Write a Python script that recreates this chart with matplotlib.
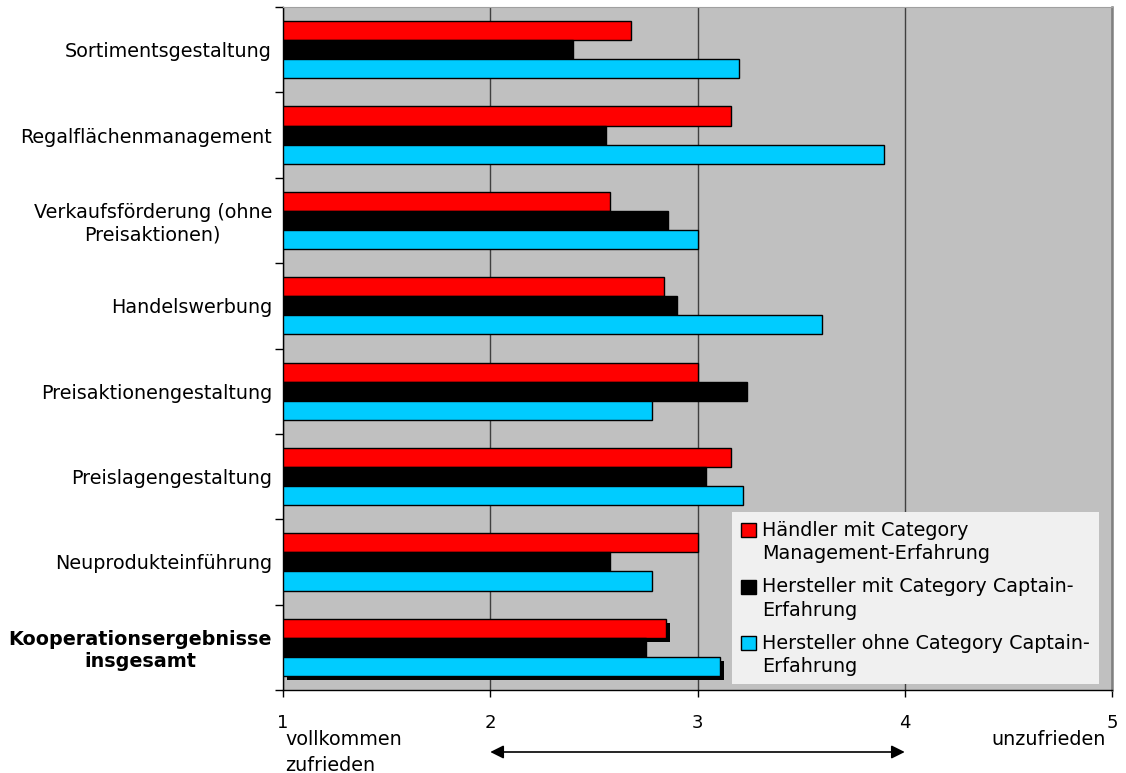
import numpy as np
import matplotlib
matplotlib.use("Agg")
import matplotlib.pyplot as plt
from matplotlib import patheffects
from matplotlib.patches import Rectangle

# Satisfaction scores (1 = vollkommen zufrieden ... 5 = unzufrieden)
categories = [
    "Sortimentsgestaltung",
    "Regalflächenmanagement",
    "Verkaufsförderung (ohne\nPreisaktionen)",
    "Handelswerbung",
    "Preisaktionengestaltung",
    "Preislagengestaltung",
    "Neuprodukteinführung",
    "Kooperationsergebnisse\ninsgesamt",
]
haendler_cm = [2.68, 3.16, 2.58, 2.84, 3.00, 3.16, 3.00, 2.85]
hersteller_mit_cc = [2.40, 2.56, 2.86, 2.90, 3.24, 3.04, 2.58, 2.75]
hersteller_ohne_cc = [3.20, 3.90, 3.00, 3.60, 2.78, 3.22, 2.78, 3.11]

series_labels = [
    "Händler mit Category\nManagement-Erfahrung",
    "Hersteller mit Category Captain-\nErfahrung",
    "Hersteller ohne Category Captain-\nErfahrung",
]
series_colors = ["#FF0000", "#000000", "#00CCFF"]
x_ticks = [1, 2, 3, 4, 5]
scale_low = "vollkommen\nzufrieden"
scale_high = "unzufrieden"

W, H = 1126, 773
plt.rcParams["font.family"] = ["DejaVu Sans"]
fig = plt.figure(figsize=(W / 100, H / 100), dpi=100)
ax = fig.add_axes([283 / W, 1 - 690 / H, (1112 - 283) / W, (690 - 7) / H])
ax.set_facecolor("#C0C0C0")


def fx(px):
    return px / W


def fy(py):
    return 1 - py / H


y = np.arange(len(categories))
bar_h = 0.2236
all_series = [haendler_cm, hersteller_mit_cc, hersteller_ohne_cc]
shadow = [patheffects.SimplePatchShadow(offset=(2.9, -3.2), shadow_rgbFace="black", alpha=1.0),
          patheffects.Normal()]

for k, (vals, col) in enumerate(zip(all_series, series_colors)):
    vals = np.asarray(vals)
    bars = ax.barh(y + (k - 1) * bar_h, vals - 1, left=1, height=bar_h,
                   color=col, edgecolor="black", linewidth=1.0, zorder=3)
    # overall result row is drawn with a drop shadow
    if k != 1:
        bars.patches[-1].set_path_effects(shadow)

ax.set_xlim(1, 5)
ax.set_ylim(len(categories) - 0.5, -0.5)

# vertical grid lines
ax.set_xticks(x_ticks)
ax.set_xticklabels([str(t) for t in x_ticks])
ax.grid(axis="x", color="#404040", linewidth=1.0, zorder=1)
ax.set_axisbelow(True)

# category labels centred on groups, tick marks between groups
ax.set_yticks(y)
ax.set_yticklabels(categories, multialignment="center")
ax.set_yticks(np.arange(len(categories) + 1) - 0.5, minor=True)
ax.tick_params(axis="y", which="major", length=0, pad=8, labelsize=13.8)
ax.tick_params(axis="y", which="minor", length=5.8, width=1, direction="out", color="black")
ax.tick_params(axis="x", which="major", length=5, width=1, direction="out", pad=12,
               labelsize=13)
for lbl in ax.get_yticklabels():
    if lbl.get_text().startswith("Kooperation"):
        lbl.set_fontweight("bold")

for side in ("left", "bottom"):
    ax.spines[side].set_color("black")
    ax.spines[side].set_linewidth(1.0)
ax.spines["top"].set_color("#A0A0A0")
ax.spines["right"].set_color("#808080")
ax.spines["right"].set_linewidth(1.8)

# legend box
fig.patches.append(Rectangle((fx(732), fy(684)), fx(1099) - fx(732), fy(512) - fy(684),
                             transform=fig.transFigure, facecolor="#F0F0F0",
                             edgecolor="none", zorder=5))
for k, (lab, col) in enumerate(zip(series_labels, series_colors)):
    top = 523 + k * 56.5
    fig.patches.append(Rectangle((fx(741), fy(top + 14)), fx(756) - fx(741), fy(top) - fy(top + 14),
                                 transform=fig.transFigure, facecolor=col,
                                 edgecolor="black", linewidth=1.0, zorder=6))
    first, second = lab.split("\n")
    base = 536 + k * 56.5
    fig.text(fx(762), fy(base), first, fontsize=13.8, va="baseline", ha="left", zorder=7)
    fig.text(fx(762), fy(base + 23), second, fontsize=13.8, va="baseline", ha="left", zorder=7)

# scale annotations below the axis
low1, low2 = scale_low.split("\n")
fig.text(fx(285), fy(745), low1, fontsize=13.8, va="baseline", ha="left")
fig.text(fx(285), fy(771), low2, fontsize=13.8, va="baseline", ha="left")
fig.text(fx(1106), fy(745), scale_high, fontsize=13.8, va="baseline", ha="right")

ax.annotate("", xy=(4, fy(752)), xytext=(2, fy(752)),
            xycoords=("data", "figure fraction"), textcoords=("data", "figure fraction"),
            arrowprops=dict(arrowstyle="<|-|>", color="black", lw=1.2, shrinkA=0, shrinkB=0,
                            mutation_scale=20),
            annotation_clip=False)

fig.savefig("out.png", dpi=100)
